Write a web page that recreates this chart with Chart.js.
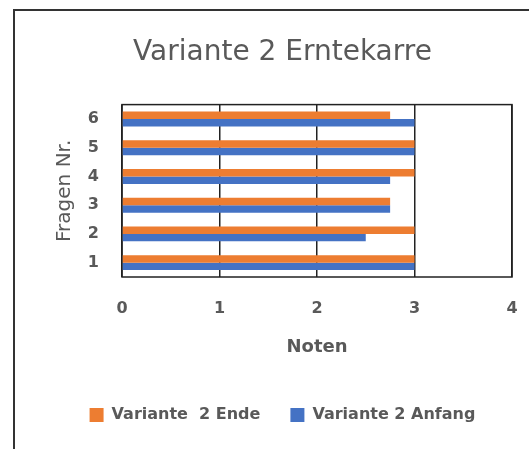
<!DOCTYPE html>
<html>
<head>
<meta charset="utf-8">
<script src="https://cdn.jsdelivr.net/npm/chart.js@4"></script>
<style>
  html, body { margin: 0; padding: 0; background: #fff; }
  body { width: 529px; height: 449px; overflow: hidden; position: relative; }
  #frame {
    position: absolute; left: 13px; top: 9px; width: 600px; height: 500px;
    border-left: 2px solid #333; border-top: 2px solid #333;
  }
  #wrap { position: absolute; left: 0; top: 0; width: 529px; height: 449px; }
</style>
</head>
<body>
<div id="frame"></div>
<div id="wrap"><canvas id="erntekarreChart"></canvas></div>
<script>
// Fragen 1..6 (bottom to top), Noten per Frage
const fragen = ['1', '2', '3', '4', '5', '6'];
const endeWerte = [3, 3, 2.75, 3, 3, 2.75];
const anfangWerte = [3, 2.5, 2.75, 2.75, 3, 3];
const notenTicks = [0, 1, 2, 3, 4];

const textGrey = '#595959';
const fontFamily = '"DejaVu Sans", sans-serif';

// thin frame around the plot area (top/bottom/left/right lines)
const plotFrame = {
  id: 'plotFrame',
  beforeDatasetsDraw(chart) {
    const { ctx, chartArea: a } = chart;
    ctx.save();
    ctx.strokeStyle = '#222';
    ctx.lineWidth = 1.5;
    ctx.strokeRect(a.left, a.top, a.right - a.left, a.bottom - a.top);
    ctx.restore();
  }
};

const ctx = document.getElementById('erntekarreChart');
new Chart(ctx, {
  type: 'bar',
  data: {
    labels: fragen,
    datasets: [
      {
        label: 'Variante  2 Ende',
        data: endeWerte,
        backgroundColor: '#ED7D31',
        categoryPercentage: 0.52,
        barPercentage: 1.0
      },
      {
        label: 'Variante 2 Anfang',
        data: anfangWerte,
        backgroundColor: '#4472C4',
        categoryPercentage: 0.52,
        barPercentage: 1.0
      }
    ]
  },
  options: {
    indexAxis: 'y',
    responsive: true,
    maintainAspectRatio: false,
    animation: false,
    layout: { padding: { left: 53, right: 17, top: 12, bottom: 16 } },
    plugins: {
      title: {
        display: true,
        text: 'Variante 2 Erntekarre',
        color: textGrey,
        font: { family: fontFamily, size: 28, weight: 'normal' },
        padding: { top: 24, bottom: 35 }
      },
      legend: {
        position: 'bottom',
        labels: {
          boxWidth: 14,
          boxHeight: 14,
          padding: 30,
          color: textGrey,
          font: { family: fontFamily, size: 16, weight: 'bold' }
        }
      },
      tooltip: { enabled: false }
    },
    scales: {
      x: {
        min: 0,
        max: 4,
        afterBuildTicks: (scale) => { scale.ticks = notenTicks.map(v => ({ value: v })); },
        ticks: {
          padding: 4,
          color: textGrey,
          font: { family: fontFamily, size: 16, weight: 'bold' }
        },
        grid: { color: '#222', lineWidth: 1.5, drawTicks: true, tickLength: 18, tickColor: 'rgba(0,0,0,0)' },
        border: { display: false },
        title: {
          display: true,
          text: 'Noten',
          color: textGrey,
          font: { family: fontFamily, size: 18, weight: 'bold' },
          padding: { top: 0, bottom: 19 }
        },
        afterFit: (scale) => { scale.height = 100; }
      },
      y: {
        reverse: true,
        grid: { display: false, drawTicks: false },
        border: { display: false },
        ticks: {
          padding: 23,
          color: textGrey,
          font: { family: fontFamily, size: 16, weight: 'bold' }
        },
        title: {
          display: true,
          text: 'Fragen Nr.',
          color: textGrey,
          font: { family: fontFamily, size: 20, weight: 'normal' },
          padding: 0
        },
        afterFit: (scale) => { scale.width = 69; }
      }
    }
  },
  plugins: [plotFrame]
});
</script>
</body>
</html>
